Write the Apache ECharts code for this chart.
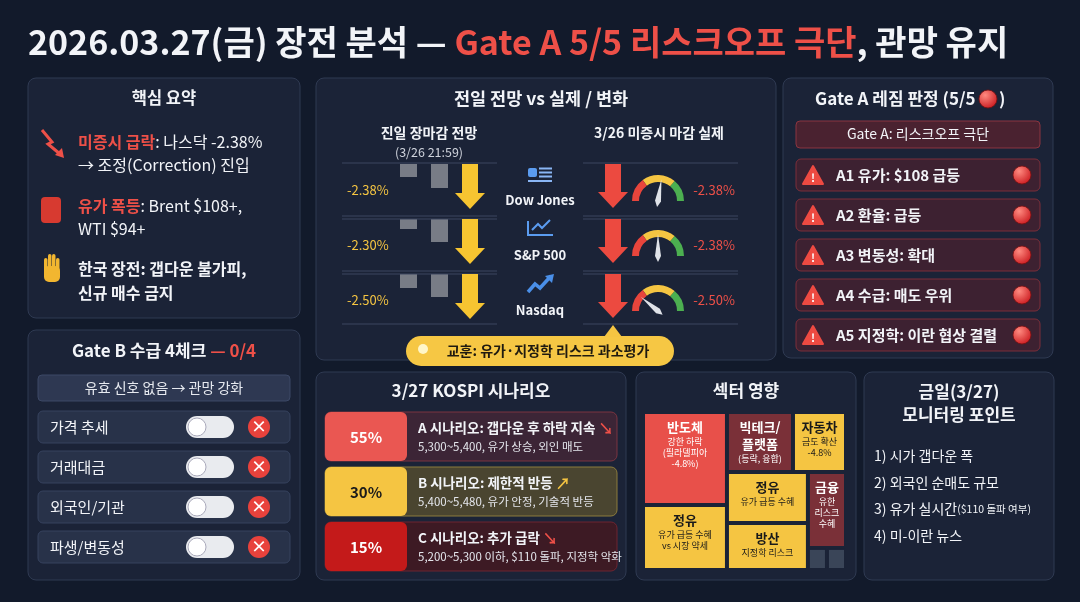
<!DOCTYPE html>
<html>
<head>
<meta charset="utf-8">
<script src="https://cdn.jsdelivr.net/npm/echarts@6/dist/echarts.min.js"></script>
<style>
  html, body { margin: 0; padding: 0; background: #121a2b; }
  #main { width: 1080px; height: 602px; }
</style>
</head>
<body>
<div id="main"></div>
<script>
// ---- 데이터 ----
var indexNames = ['Dow Jones', 'S&P 500', 'Nasdaq'];
var forecastPct = [-2.38, -2.30, -2.50];
var actualPct = [-2.38, -2.38, -2.50];
var forecastBars = [[13, 24], [10, 23], [14, 23]];   // 회색 막대
var gaugeReading = [55, 50, 22];
var gateAItems = ['A1 유가: $108 급등', 'A2 환율: 급등', 'A3 변동성: 확대', 'A4 수급: 매도 우위', 'A5 지정학: 이란 협상 결렬'];
var gateBItems = ['가격 추세', '거래대금', '외국인/기관', '파생/변동성'];
var scenarioProb = [55, 30, 15];
var scenarioTitle = ['A 시나리오: 갭다운 후 하락 지속', 'B 시나리오: 제한적 반등', 'C 시나리오: 추가 급락'];
var scenarioDesc = ['5,300~5,400, 유가 상승, 외인 매도', '5,400~5,480, 유가 안정, 기술적 반등', '5,200~5,300 이하, $110 돌파, 지정학 악화'];
var sectorNames = ['반도체', '정유', '빅테크/\n플랫폼', '자동차', '정유 ', '방산', '금융', '기타1', '기타2'];
var sectorSub = ['강한 하락\n(필라델피아\n-4.8%)', '유가 급등 수혜\nvs 시장 약세', '(등락, 융합)', '금도 확산\n-4.8%', '유가 급등 수혜\nvs 시장 약세', '지정학 리스크\n수혜', '유한\n리스크\n수혜', '', ''];
var sectorSize = [7800, 5460, 3960, 3180, 4130, 3800, 2890, 420, 420];
var monitorItems = ['1) 시가 갭다운 폭', '2) 외국인 순매도 규모', '3) 유가 실시간', '4) 미-이란 뉴스'];

var FONT = '"Noto Sans CJK KR", "Noto Sans", sans-serif';
var RED = '#ee5048', YEL = '#f5c542', WHITE = '#f2f4f8';

var chart = echarts.init(document.getElementById('main'));
var g = [];

function panel(x, y, w, h) {
  g.push({ type: 'rect', shape: { x: x, y: y, width: w, height: h, r: 8 },
    style: { fill: '#1b2337', stroke: '#2f3a52', lineWidth: 1 } });
}
function txt(t, x, y, size, color, opt) {
  opt = opt || {};
  g.push({ type: 'text', z: 10, style: { text: t, x: x, y: y, fill: color,
    font: (opt.weight || 'bold') + ' ' + size + 'px ' + FONT,
    textAlign: opt.align || 'left', textVerticalAlign: 'middle', rich: opt.rich } });
}
function box(x, y, w, h, fill, stroke, r) {
  g.push({ type: 'rect', z: 5, shape: { x: x, y: y, width: w, height: h, r: r == null ? 5 : r },
    style: { fill: fill, stroke: stroke || null, lineWidth: 1 } });
}
function downArrow(cx, top, bottom, color) {
  g.push({ type: 'polygon', z: 6, shape: { points: [
    [cx - 8, top], [cx + 8, top], [cx + 8, bottom - 16], [cx + 15, bottom - 16],
    [cx, bottom], [cx - 15, bottom - 16], [cx - 8, bottom - 16]] }, style: { fill: color } });
}
function dot(cx, cy, r) {
  g.push({ type: 'circle', z: 8, shape: { cx: cx, cy: cy, r: r }, style: {
    fill: new echarts.graphic.RadialGradient(0.35, 0.3, 0.8, [{ offset: 0, color: '#ff8a80' }, { offset: 1, color: '#c8141a' }]),
    stroke: '#7a1010', lineWidth: 0.8 } });
}
function line(x1, y1, x2, y2, c, w) {
  g.push({ type: 'line', z: 4, shape: { x1: x1, y1: y1, x2: x2, y2: y2 }, style: { stroke: c, lineWidth: w || 1 } });
}

// 제목
txt('{w|2026.03.27(금) 장전 분석 — }{r|Gate A 5/5 리스크오프 극단}{w|, 관망 유지}', 28, 42, 34, WHITE, {
  rich: { w: { fill: WHITE, font: 'bold 34px ' + FONT }, r: { fill: RED, font: 'bold 34px ' + FONT } } });

// 패널
panel(28, 78, 272, 240); panel(28, 330, 272, 250); panel(316, 78, 460, 282);
panel(783, 78, 270, 280); panel(316, 372, 310, 208); panel(636, 372, 220, 208); panel(864, 372, 190, 208);

// 핵심 요약
txt('핵심 요약', 164, 98, 16.5, WHITE, { align: 'center' });
g.push({ type: 'polyline', z: 8, shape: { points: [[42, 130], [52, 142], [48, 144], [60, 154]] },
  style: { stroke: RED, lineWidth: 3, fill: null } });
g.push({ type: 'polygon', z: 8, shape: { points: [[55, 155], [64, 158], [62, 148]] }, style: { fill: RED } });
var rs = { r: { fill: RED, font: 'bold 16px ' + FONT }, w: { fill: WHITE, font: '16px ' + FONT } };
txt('{r|미증시 급락}{w|: 나스닥 -2.38%}', 78, 142, 16, WHITE, { rich: rs });
txt('→ 조정(Correction) 진입', 78, 165, 16, WHITE, { weight: 'normal' });
box(41, 197, 20, 26, '#d73a30', null, 4);
line(41, 205, 61, 205, '#7a1a14', 2); line(41, 215, 61, 215, '#7a1a14', 2);
txt('{r|유가 폭등}{w|: Brent $108+,}', 78, 206, 16, WHITE, { rich: rs });
txt('WTI $94+', 78, 229, 16, WHITE, { weight: 'normal' });
box(44, 266, 16, 16, '#f2b630', null, 5);
[0, 1, 2, 3].forEach(function (i) { box(44 + i * 4, 254 + (i === 0 || i === 3 ? 4 : 0), 3.5, 16, '#f2b630', null, 2); });
txt('한국 장전: 갭다운 불가피,', 78, 269, 16, WHITE);
txt('신규 매수 금지', 78, 293, 16, WHITE);

// Gate B
txt('{w|Gate B 수급 4체크 }{r|— 0/4}', 164, 351, 17, WHITE, { align: 'center',
  rich: { w: { fill: WHITE, font: 'bold 17px ' + FONT }, r: { fill: RED, font: 'bold 17px ' + FONT } } });
box(38, 375, 252, 26, '#2e3852', '#3c4866', 4);
txt('유효 신호 없음 → 관망 강화', 164, 388, 14, '#e6e9ef', { align: 'center', weight: 'normal' });
gateBItems.forEach(function (s, i) {
  var y = 411 + i * 40;
  box(38, y, 252, 32, '#283249', '#36425e', 5);
  txt(s, 50, y + 16, 15, WHITE, { weight: 'normal' });
  box(186, y + 5, 48, 22, '#e9ebef', null, 11);
  g.push({ type: 'circle', z: 7, shape: { cx: 197, cy: y + 16, r: 9 }, style: { fill: '#ffffff', stroke: '#aab', lineWidth: 1 } });
  g.push({ type: 'circle', z: 7, shape: { cx: 259, cy: y + 16, r: 11 }, style: { fill: '#e8423c' } });
  txt('×', 259, y + 15, 16, '#fff', { align: 'center' });
});

// 가운데 패널
txt('전일 전망 vs 실제 / 변화', 541, 98, 17.5, WHITE, { align: 'center' });
txt('진일 장마감 전망', 429, 133, 14, WHITE, { align: 'center' });
txt('(3/26 21:59)', 429, 152, 12.5, '#cfd3dc', { align: 'center', weight: 'normal' });
txt('3/26 미증시 마감 실제', 659, 133, 14, WHITE, { align: 'center' });
[163, 216, 271, 324].forEach(function (y, k) {
  line(342, y, 497, y, '#3c4660', 1.2); line(583, y, 738, y, '#3c4660', 1.2);
  if (k === 1 || k === 2) { line(342, y + 3, 497, y + 3, '#3c4660', 1); line(583, y + 3, 738, y + 3, '#3c4660', 1); }
});
var rowY = [190, 245, 300];
indexNames.forEach(function (n, i) {
  var cy = rowY[i];
  txt(forecastPct[i].toFixed(2) + '%', 347, cy, 13, YEL, { weight: 'normal' });
  downArrow(470, cy - 26, cy + 19, '#f7c531');
  downArrow(613, cy - 26, cy + 18, '#ec4a40');
  txt(actualPct[i].toFixed(2) + '%', 714, cy, 13, RED, { align: 'center', weight: 'normal' });
  txt(n, 540, cy + 10, 13, WHITE, { align: 'center' });
});
// 아이콘
box(528, 168, 9, 9, '#5b9cf0', null, 2);
[168, 172, 176].forEach(function (y) { line(539, y + 0.5, 552, y + 0.5, '#8ab6f5', 2); });
line(528, 181, 552, 181, '#8ab6f5', 2);
g.push({ type: 'polyline', z: 8, shape: { points: [[528, 221], [528, 235], [553, 235]] }, style: { stroke: '#5b9cf0', lineWidth: 2, fill: null } });
g.push({ type: 'polyline', z: 8, shape: { points: [[532, 230], [538, 224], [542, 228], [550, 220]] }, style: { stroke: '#5b9cf0', lineWidth: 2, fill: null } });
g.push({ type: 'polyline', z: 8, shape: { points: [[528, 292], [535, 284], [540, 288], [551, 276]] }, style: { stroke: '#4a8fe8', lineWidth: 3.5, fill: null } });
g.push({ type: 'polygon', z: 8, shape: { points: [[545, 276], [554, 274], [552, 283]] }, style: { fill: '#4a8fe8' } });
// 교훈 말풍선
g.push({ type: 'polygon', z: 6, shape: { points: [[604, 337], [622, 337], [613, 325]] }, style: { fill: YEL } });
box(406, 336, 268, 30, '#f6c744', null, 15);
g.push({ type: 'circle', z: 8, shape: { cx: 423, cy: 349, r: 5 }, style: { fill: '#fff6c8' } });
txt('교훈: 유가·지정학 리스크 과소평가', 548, 351, 14, '#1f1a10', { align: 'center' });

// Gate A
txt('Gate A 레짐 판정 (5/5', 815, 99, 17, WHITE);
dot(988, 99, 9); txt(')', 999, 99, 17, WHITE);
box(796, 121, 244, 27, '#4a2230', '#8a3540', 4);
txt('Gate A: 리스크오프 극단', 918, 134, 14, WHITE, { align: 'center', weight: 'normal' });
gateAItems.forEach(function (s, i) {
  var y = 159 + i * 40;
  box(796, y, 244, 32, '#3d2131', '#7c2f3a', 5);
  g.push({ type: 'polygon', z: 7, shape: { points: [[813, y + 7], [823, y + 25], [803, y + 25]] }, style: { fill: '#ee4a42', stroke: '#ee4a42', lineJoin: 'round', lineWidth: 2 } });
  txt('!', 813, y + 19, 11, '#fff', { align: 'center' });
  txt(s, 836, y + 16, 15, WHITE);
  dot(1022, y + 16, 9);
});

// KOSPI 시나리오
txt('3/27 KOSPI 시나리오', 471, 391, 17, WHITE, { align: 'center' });
var scLeft = ['#ea5752', '#f5c542', '#c41a1a'], scRight = ['#3c2536', '#4a4530', '#3d1a24'];
var scStroke = ['#7a3440', '#8c7c3c', '#6e2430'], scPct = ['#fff', '#1a1a1a', '#fff'];
var scArrow = ['↘', '↗', '↘'], scArrowC = [RED, YEL, RED];
scenarioProb.forEach(function (p, i) {
  var y = 412 + i * 55;
  box(325, y, 292, 49, scRight[i], scStroke[i], 6);
  box(325, y, 82, 49, scLeft[i], null, 6);
  txt(p + '%', 366, y + 25, 15, scPct[i], { align: 'center' });
  txt('{t|' + scenarioTitle[i] + ' }{a|' + scArrow[i] + '}', 418, y + 16, 13.5, WHITE, {
    rich: { t: { fill: WHITE, font: 'bold 13.5px ' + FONT }, a: { fill: scArrowC[i], font: 'bold 15px ' + FONT } } });
  txt(scenarioDesc[i], 418, y + 35, 11.5, '#e4e6ec', { weight: 'normal' });
});

// 섹터 영향
txt('섹터 영향', 746, 391, 17, WHITE, { align: 'center' });
var sectorColor = ['#e8504a', '#f5c542', '#7a3038', '#f5c542', '#f5c542', '#f5c542', '#7a3038', '#3a4558', '#3a4558'];
var sectorText = ['#fff', '#1a1a1a', '#fff', '#1a1a1a', '#1a1a1a', '#1a1a1a', '#fff', '#fff', '#fff'];

// 모니터링
txt('금일(3/27)', 959, 392, 17, WHITE, { align: 'center' });
txt('모니터링 포인트', 959, 415, 17, WHITE, { align: 'center' });
monitorItems.forEach(function (s, i) {
  if (i === 2) {
    txt('{a|' + s + '}{b|($110 돌파 여부)}', 874, 456 + i * 26.5, 14, WHITE, {
      rich: { a: { fill: WHITE, font: '14px ' + FONT }, b: { fill: WHITE, font: '10.5px ' + FONT } } });
  } else txt(s, 874, 456 + i * 26.5, 14, WHITE, { weight: 'normal' });
});

// 시리즈
var grids = [], xAxes = [], yAxes = [], series = [];
forecastBars.forEach(function (b, i) {
  grids.push({ left: 393, width: 62, top: [164, 219, 274][i], height: 30 });
  xAxes.push({ type: 'category', gridIndex: i, data: ['a', 'b'], show: false });
  yAxes.push({ type: 'value', gridIndex: i, inverse: true, min: 0, max: 30, show: false });
  series.push({ type: 'bar', xAxisIndex: i, yAxisIndex: i, data: b, barWidth: 17,
    itemStyle: { color: '#787c86' }, silent: true });
});
gaugeReading.forEach(function (v, i) {
  series.push({ type: 'gauge', center: [658, [201, 256, 311][i]], radius: 26,
    startAngle: 180, endAngle: 0, min: 0, max: 100,
    axisLine: { lineStyle: { width: 7, color: [[0.3, '#e8453c'], [0.72, '#f5c542'], [1, '#4caf50']] } },
    pointer: { length: '85%', width: 3, itemStyle: { color: '#dfe2e8' } },
    anchor: { show: false }, axisTick: { show: false }, splitLine: { show: false },
    axisLabel: { show: false }, detail: { show: false }, title: { show: false },
    data: [{ value: v }] });
});
series.push({ type: 'treemap', left: 643, top: 412, width: 203, height: 158,
  roam: false, nodeClick: false, breadcrumb: { show: false }, squareRatio: 1.2, sort: false,
  itemStyle: { gapWidth: 2, borderColor: '#1b2337', borderWidth: 1 },
  label: { show: true, position: 'inside', align: 'center', verticalAlign: 'middle', overflow: 'none' },
  data: sectorNames.map(function (n, i) {
    return { name: n, value: sectorSize[i], itemStyle: { color: sectorColor[i] },
      label: { overflow: 'none', formatter: i >= 7 ? '' : '{n|' + n.trim() + '}\n{s|' + sectorSub[i] + '}',
        rich: { n: { color: sectorText[i], fontFamily: FONT, fontWeight: 'bold', fontSize: 13, lineHeight: 17, align: 'center' },
                s: { color: sectorText[i], fontFamily: FONT, fontSize: 9, lineHeight: 11, align: 'center' } } } };
  }) });

chart.setOption({
  backgroundColor: '#121a2b',
  animation: false,
  grid: grids, xAxis: xAxes, yAxis: yAxes,
  series: series,
  graphic: { elements: g }
});
</script>
</body>
</html>
